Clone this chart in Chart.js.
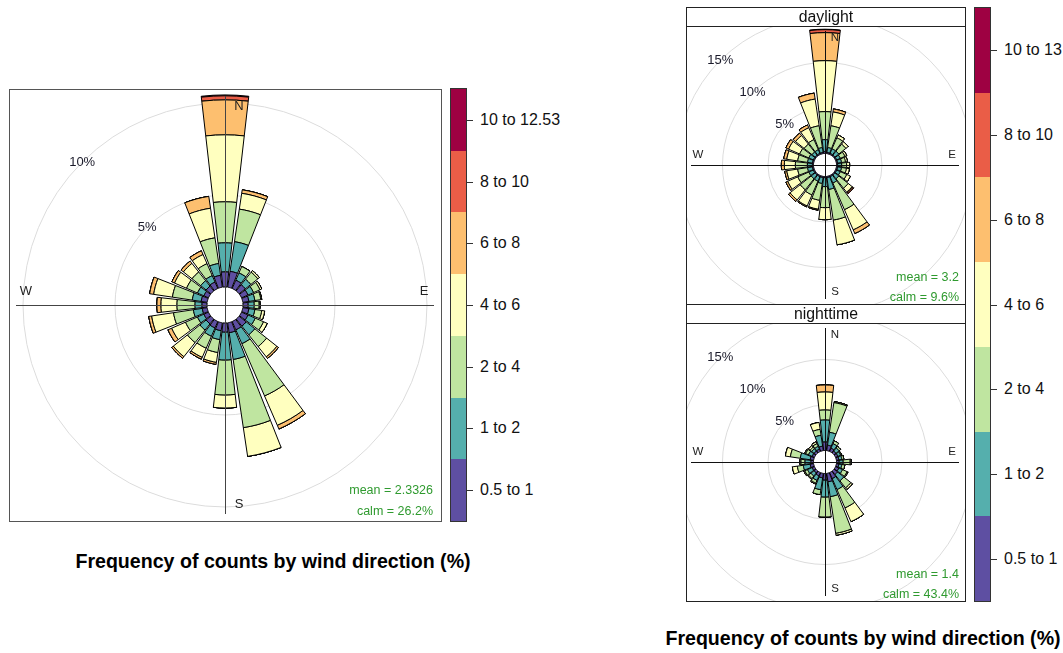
<!DOCTYPE html>
<html>
<head>
<meta charset="utf-8">
<script src="https://cdn.jsdelivr.net/npm/chart.js@4"></script>
<style>
html,body{margin:0;padding:0;background:#fff;}
body{width:1063px;height:653px;position:relative;overflow:hidden;font-family:"Liberation Sans",Arial,sans-serif;color:#000;}
canvas{position:absolute;}
.frame{position:absolute;box-sizing:border-box;pointer-events:none;}
.title{position:absolute;font-weight:bold;font-size:19.6px;white-space:nowrap;transform:translate(-50%,-50%);}
.strip{position:absolute;box-sizing:border-box;text-align:center;font-size:15.8px;color:#111;}
.cbseg{position:absolute;}
.cblab{position:absolute;font-size:16px;white-space:nowrap;transform:translateY(-50%);color:#111;}
.cbtick{position:absolute;height:1px;background:#333;}
</style>
</head>
<body>
<canvas id="cAll" width="432" height="432" style="left:9px;top:89px"></canvas>
<div class="frame" style="left:9px;top:89px;width:433px;height:433px;border:1px solid #555"></div>

<canvas id="cDay" width="279" height="278" style="left:686px;top:26px"></canvas>
<canvas id="cNight" width="279" height="278" style="left:686px;top:323px"></canvas>
<div class="frame" style="left:686px;top:7px;width:280px;height:595px;border:1px solid #222"></div>
<div class="strip" style="left:686px;top:7px;width:280px;height:20px;border:1px solid #222;line-height:18px">daylight</div>
<div class="strip" style="left:686px;top:304px;width:280px;height:20px;border:1px solid #222;line-height:18px">nighttime</div>

<div id="legAll"></div>
<div id="legSplit"></div>

<div class="title" style="left:273px;top:561px">Frequency of counts by wind direction (%)</div>
<div class="title" style="left:863px;top:638px">Frequency of counts by wind direction (%)</div>

<script>
// ---- categories ----
const directions = [0,15,30,45,60,75,90,105,120,135,150,165,180,195,210,225,240,255,270,285,300,315,330,345];
const binLabelsAll   = ["0.5 to 1","1 to 2","2 to 4","4 to 6","6 to 8","8 to 10","10 to 12.53"];
const binLabelsSplit = ["0.5 to 1","1 to 2","2 to 4","4 to 6","6 to 8","8 to 10","10 to 13"];
const binColors = ["#5E4FA2","#55AFAD","#BFE5A0","#FFFFBF","#FDBF6F","#EA5D47","#9E0142"];
const gridTicksAll = [5,10];
const gridTicksSplit = [5,10,15];

// ---- all data: frequency (%) per speed bin, by direction ----
const allP = [0.82,0.87,0.49,0.43,0.38,0.33,0.27,0.33,0.38,0.49,0.49,0.54,0.49,0.43,0.38,0.33,0.27,0.27,0.27,0.33,0.27,0.33,0.38,0.65];
const allT = [1.58,1.63,0.43,0.38,0.33,0.33,0.33,0.33,0.43,0.60,0.82,1.47,1.52,0.49,0.49,0.43,0.38,0.49,0.38,0.49,0.38,0.38,0.38,0.65];
const allG = [2.23,1.79,0.38,0.49,0.38,0.33,0.27,0.38,0.49,0.82,3.10,3.75,1.90,0.71,0.71,0.87,0.71,1.09,0.98,1.09,0.65,0.60,0.71,1.41];
const allY = [3.64,0.87,0,0.11,0.11,0.05,0.05,0.16,0.22,0.71,1.74,1.58,0.71,0.54,0.54,0.98,0.82,1.20,0.87,1.03,0.71,0.60,0.54,1.63];
const allO = [1.90,0.19,0,0,0,0,0,0,0,0.11,0.22,0,0,0.11,0.11,0.11,0.22,0.16,0.22,0.22,0.16,0.16,0.22,0.65];
const allR = [0.22,0,0,0,0,0,0,0,0,0,0,0,0,0,0,0,0,0,0,0,0,0,0,0];
const allC = [0.05,0,0,0,0,0,0,0,0,0,0,0,0,0,0,0,0,0,0,0,0,0,0,0];

// ---- daylight ----
const dayP = [0.20,0.12,0.12,0.12,0.12,0.12,0.12,0.12,0.12,0.12,0.12,0.12,0.12,0.12,0.12,0.12,0.12,0.12,0.12,0.12,0.12,0.12,0.12,0.12];
const dayT = [1.32,0.55,0.55,0.55,0.44,0.44,0.44,0.44,0.44,0.55,0.77,1.32,0.99,0.66,0.55,0.55,0.55,0.55,0.55,0.55,0.55,0.44,0.44,0.55];
const dayG = [3.08,2.42,1.32,0.99,0.55,0.44,0.55,0.55,0.77,1.32,3.19,3.41,2.31,1.87,1.65,1.54,1.32,1.10,1.32,1.10,1.10,1.10,1.21,2.42];
const dayY = [5.60,1.54,0.33,0.33,0.22,0.22,0.33,0.33,0.44,0.55,2.42,2.75,1.32,0.99,1.32,1.43,1.21,1.21,1.21,1.21,1.32,1.21,1.43,2.97];
const dayO = [3.08,0.33,0,0,0,0,0,0,0,0.11,0.44,0,0,0.11,0.11,0.22,0.22,0.22,0.33,0.33,0.33,0.33,0.33,0.66];
const dayR = [0.33,0,0,0,0,0,0,0,0,0.11,0,0,0,0,0,0,0,0,0,0,0,0,0,0];
const dayC = [0.05,0,0,0,0,0,0,0,0,0,0,0,0,0,0,0,0,0,0,0,0,0,0,0];

// ---- nighttime ----
const nightP = [0.93,0.60,0.38,0.27,0.27,0.27,0.27,0.27,0.38,0.49,0.71,0.93,0.71,0.49,0.38,0.27,0.27,0.38,0.27,0.38,0.27,0.27,0.27,0.49];
const nightT = [2.42,1.43,0.55,0.44,0.33,0.33,0.44,0.33,0.44,0.88,1.32,1.65,1.87,1.32,0.55,0.44,0.55,0.77,0.66,1.10,0.44,0.33,0.33,1.21];
const nightG = [1.10,3.30,0.33,0.22,0.11,0.22,0.77,0.33,0.55,0.99,2.20,4.07,2.20,0.55,0.33,0.33,0.33,0.66,0.44,1.10,0.33,0.22,0.33,0.66];
const nightY = [1.98,0.11,0,0,0,0,0.11,0,0.11,0.22,1.65,0.22,0,0,0.11,0.11,0.11,0.55,0.11,0.55,0.11,0.22,0.22,0.77];
const nightO = [0.77,0,0,0,0,0,0,0,0,0,0,0,0,0,0,0,0,0,0,0,0,0,0,0];
const nightR = [0,0,0,0,0,0,0,0,0,0,0,0,0,0,0,0,0,0,0,0,0,0,0,0];
const nightC = [0,0,0,0,0,0,0,0,0,0,0,0,0,0,0,0,0,0,0,0,0,0,0,0];

const wedgeAngle = 13, gapAngle = 2;

// stacks each ring on top of the one below it
const stackPlugin = {
  id: 'roseStack',
  afterDatasetsUpdate(chart) {
    const scale = chart.scales.r;
    const base = scale.getDistanceFromCenterForValue(0);
    chart.data.datasets.forEach((ds, k) => {
      const meta = chart.getDatasetMeta(k);
      const prev = k > 0 ? chart.getDatasetMeta(k - 1).data : null;
      meta.data.forEach((arc, i) => { arc.innerRadius = prev ? prev[i].outerRadius : base; });
    });
  }
};

const decoPlugin = {
  id: 'roseDeco',
  afterDatasetsDraw(chart, args, o) {
    const s = chart.scales.r, ctx = chart.ctx;
    const cx = s.xCenter, cy = s.yCenter, R = s.drawingArea;
    ctx.save();
    // percentage labels along the NW diagonal
    ctx.font = o.tickFont + 'px "Liberation Sans", Arial, sans-serif';
    ctx.fillStyle = '#1a1a2a';
    ctx.textAlign = 'center'; ctx.textBaseline = 'middle';
    o.ticks.forEach(v => {
      const d = s.getDistanceFromCenterForValue(v);
      ctx.fillText(v + '%', cx - d * Math.SQRT1_2, cy - d * Math.SQRT1_2);
    });
    // cross axes
    ctx.strokeStyle = o.crossColor; ctx.lineWidth = 1;
    const L = R - o.crossInset;
    ctx.beginPath();
    ctx.moveTo(cx - L, cy + 0.5); ctx.lineTo(cx + L, cy + 0.5);
    ctx.moveTo(cx + 0.5, cy - L); ctx.lineTo(cx + 0.5, cy + L);
    ctx.stroke();
    // compass letters
    ctx.font = o.letterFont + 'px "Liberation Sans", Arial, sans-serif';
    ctx.fillStyle = '#222';
    const D = R - o.letterInset, sh = o.letterShift;
    ctx.fillText('N', cx + sh, cy - D);
    ctx.fillText('S', cx + sh, cy + D);
    ctx.fillText('W', cx - D, cy - sh);
    ctx.fillText('E', cx + D, cy - sh);
    // stats
    ctx.font = o.statFont + 'px "Liberation Sans", Arial, sans-serif';
    ctx.fillStyle = '#2f9a2f';
    ctx.textAlign = 'right';
    ctx.fillText('mean = ' + o.mean, chart.width - o.statRight, chart.height - o.meanUp);
    ctx.fillText('calm = ' + o.calm, chart.width - o.statRight, chart.height - o.calmUp);
    ctx.restore();
  }
};

function buildRose(id, bins, labels, cfg) {
  const dirLabels = [];
  directions.forEach(d => { dirLabels.push(d + '°'); dirLabels.push(''); });
  let cum = directions.map(() => 0);
  const datasets = bins.map((b, k) => {
    cum = cum.map((c, i) => c + b[i]);
    const data = [];
    cum.forEach(v => { data.push(Math.round(v * 1000) / 1000); data.push(0); });
    return {
      label: labels[k], data,
      backgroundColor: binColors[k],
      borderColor: '#000',
      borderWidth: c => (c.dataIndex % 2 ? 0 : 1),
      angle: c => (c.dataIndex % 2 ? gapAngle : wedgeAngle)
    };
  });
  return new Chart(document.getElementById(id), {
    type: 'polarArea',
    data: { labels: dirLabels, datasets },
    options: {
      responsive: false, animation: false, devicePixelRatio: 1, events: [],
      layout: { padding: 0 },
      plugins: { legend: { display: false }, tooltip: { enabled: false }, roseDeco: cfg },
      scales: {
        r: {
          min: cfg.rMin, max: cfg.rMax, bounds: 'data', startAngle: -wedgeAngle / 2,
          ticks: { display: false },
          afterBuildTicks: sc => { sc.ticks = [0].concat(cfg.ticks).map(v => ({ value: v })); },
          grid: { circular: true, color: c => (c.tick && c.tick.value === 0 ? 'rgba(0,0,0,0)' : '#dcdcdc'), lineWidth: 1 },
          angleLines: { display: false },
          pointLabels: { display: false }
        }
      }
    },
    plugins: [stackPlugin, decoPlugin]
  });
}

buildRose('cAll', [allP, allT, allG, allY, allO, allR, allC], binLabelsAll, {
  rMin: -0.978, rMax: 10.761, ticks: gridTicksAll, tickFont: 13,
  crossColor: '#444', crossInset: 7, letterFont: 13, letterInset: 17, letterShift: 14,
  statFont: 12.5, statRight: 8, meanUp: 30, calmUp: 9, mean: '2.3326', calm: '26.2%'
});
buildRose('cDay', [dayP, dayT, dayG, dayY, dayO, dayR, dayC], binLabelsSplit, {
  rMin: -1.264, rMax: 14.011, ticks: gridTicksSplit, tickFont: 13,
  crossColor: '#111', crossInset: 5, letterFont: 11.5, letterInset: 12, letterShift: 10,
  statFont: 12.5, statRight: 6, meanUp: 26, calmUp: 6.5, mean: '3.2', calm: '9.6%'
});
buildRose('cNight', [nightP, nightT, nightG, nightY, nightO, nightR, nightC], binLabelsSplit, {
  rMin: -1.264, rMax: 14.011, ticks: gridTicksSplit, tickFont: 13,
  crossColor: '#111', crossInset: 5, letterFont: 11.5, letterInset: 12, letterShift: 10,
  statFont: 12.5, statRight: 6, meanUp: 26, calmUp: 6.5, mean: '1.4', calm: '43.4%'
});

// colour keys
function buildKey(id, labels, x, top, h, w) {
  const el = document.getElementById(id);
  const n = labels.length, seg = h / n;
  let html = '';
  labels.forEach((lab, k) => {
    const y0 = top + h - (k + 1) * seg;
    html += `<div class="cbseg" style="left:${x}px;top:${y0}px;width:${w}px;height:${seg}px;background:${binColors[k]}"></div>`;
    html += `<div class="cbtick" style="left:${x + w}px;top:${y0 + seg / 2}px;width:7px"></div>`;
    html += `<div class="cblab" style="left:${x + w + 14}px;top:${y0 + seg / 2}px">${lab}</div>`;
  });
  html += `<div class="frame" style="left:${x - 1}px;top:${top - 1}px;width:${w + 2}px;height:${h + 2}px;border:1px solid #333"></div>`;
  el.innerHTML = html;
}
buildKey('legAll', binLabelsAll, 451, 89, 432, 15);
buildKey('legSplit', binLabelsSplit, 975, 8, 593, 15);
</script>
</body>
</html>
